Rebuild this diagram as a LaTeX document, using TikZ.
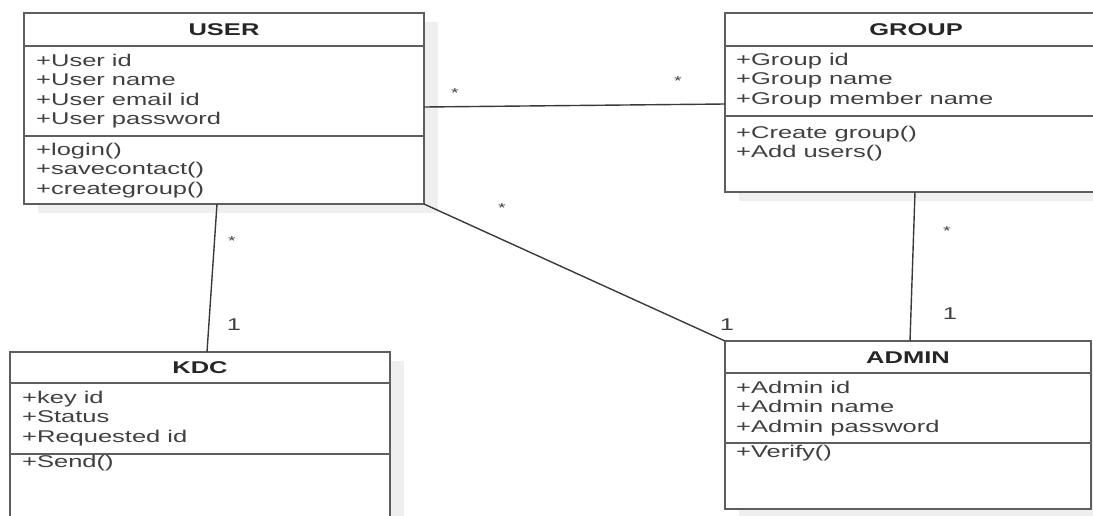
\documentclass[tikz,border=0pt]{standalone}
\usepackage{fontspec}
\newfontfamily\umlfont[FakeStretch=1.5]{Liberation Sans}
\usetikzlibrary{calc}
\definecolor{boxline}{HTML}{5E5E5E}
\definecolor{txt}{HTML}{404040}
\definecolor{ttl}{HTML}{262626}
\definecolor{shade}{HTML}{EFEFEF}
\definecolor{wire}{HTML}{3A3A3A}

\tikzset{
  classbox/.style={rectangle, draw=boxline, line width=2pt, fill=white,
                   inner sep=0pt, outer sep=0pt},
  boxshadow/.style={fill=shade, draw=none},
  divider/.style={draw=boxline, line width=2pt},
  classname/.style={anchor=base, inner sep=0pt, text=ttl,
                    font=\umlfont\bfseries\fontsize{17}{19.5}\selectfont},
  members/.style={anchor=north west, inner sep=0pt, align=left, text=txt,
                  font=\umlfont\fontsize{17}{19.6}\selectfont},
  assoc/.style={draw=wire, line width=1.4pt},
  many/.style={inner sep=0pt, text=txt, font=\umlfont\fontsize{13}{13}\selectfont},
  one/.style={inner sep=0pt, text=txt, font=\umlfont\fontsize{17}{17}\selectfont},
}

\begin{document}
\begin{tikzpicture}[x=1pt, y=-1pt]
  \useasboundingbox (0,0) rectangle (1093,515);
  \clip (0,0) rectangle (1093,515);

  % drop shadows behind the classes
  \fill[boxshadow] (38,22) rectangle (438,213);
  \fill[boxshadow] (739,22) rectangle (1121,201);
  \fill[boxshadow] (24,361) rectangle (404,540);
  \fill[boxshadow] (739,350) rectangle (1105,518);

  % class frames
  \node[classbox, minimum width=400pt, minimum height=191pt] (user) at (224,108.5) {};
  \node[classbox, minimum width=382pt, minimum height=179pt] (group) at (916,102.5) {};
  \node[classbox, minimum width=380pt, minimum height=178pt] (kdc) at (200,441) {};
  \node[classbox, minimum width=366pt, minimum height=168pt] (admin) at (908,425) {};

  % USER
  \draw[divider] (24,46) -- (424,46);
  \draw[divider] (24,136) -- (424,136);
  \node[classname] (userTitle) at (224,35) {USER};
  \node[members] (userAttr) at (36,53.5)
    {+User id\\+User name\\+User email id\\+User password};
  \node[members] (userOps) at (36,142.5)
    {+login()\\+savecontact()\\+creategroup()};

  % GROUP
  \draw[divider] (725,46) -- (1107,46);
  \draw[divider] (725,116) -- (1107,116);
  \node[classname] (groupTitle) at (916,35) {GROUP};
  \node[members] (groupAttr) at (736,52.5)
    {+Group id\\+Group name\\+Group member name};
  \node[members] (groupOps) at (736,125.5)
    {+Create group()\\+Add users()};

  % KDC
  \draw[divider] (10,383) -- (390,383);
  \draw[divider] (10,454) -- (390,454);
  \node[classname] (kdcTitle) at (200,373) {KDC};
  \node[members] (kdcAttr) at (22,390.5)
    {+key id\\+Status\\+Requested id};
  \node[members] (kdcOps) at (22,454.5) {+Send()};

  % ADMIN
  \draw[divider] (725,373) -- (1091,373);
  \draw[divider] (725,443) -- (1091,443);
  \node[classname] (adminTitle) at (908,363) {ADMIN};
  \node[members] (adminAttr) at (736,380.5)
    {+Admin id\\+Admin name\\+Admin password};
  \node[members] (adminOps) at (736,444.5) {+Verify()};

  % associations
  \coordinate (uGroupEnd) at ($(user.north east)+(0,94)$);
  \coordinate (gUserEnd) at ($(group.north west)+(0,91)$);
  \coordinate (uKdcEnd) at ($(user.south west)+(193,0)$);
  \coordinate (kUserEnd) at ($(kdc.north west)+(197,0)$);
  \coordinate (gAdminEnd) at ($(group.south west)+(190,0)$);
  \coordinate (aGroupEnd) at ($(admin.north west)+(185,0)$);

  \draw[assoc] (uGroupEnd) -- (gUserEnd);
  \draw[assoc] (user.south east) -- (admin.north west);
  \draw[assoc] (uKdcEnd) -- (kUserEnd);
  \draw[assoc] (gAdminEnd) -- (aGroupEnd);

  % multiplicities
  \node[many] (m1) at (455,93) {*};
  \node[many] (m2) at (678,81) {*};
  \node[many] (m3) at (502,208) {*};
  \node[many] (m4) at (232,241) {*};
  \node[many] (m5) at (947,231) {*};
  \node[one] (o1) at (234,325) {1};
  \node[one] (o2) at (727,325) {1};
  \node[one] (o3) at (950,314) {1};
\end{tikzpicture}
\end{document}
